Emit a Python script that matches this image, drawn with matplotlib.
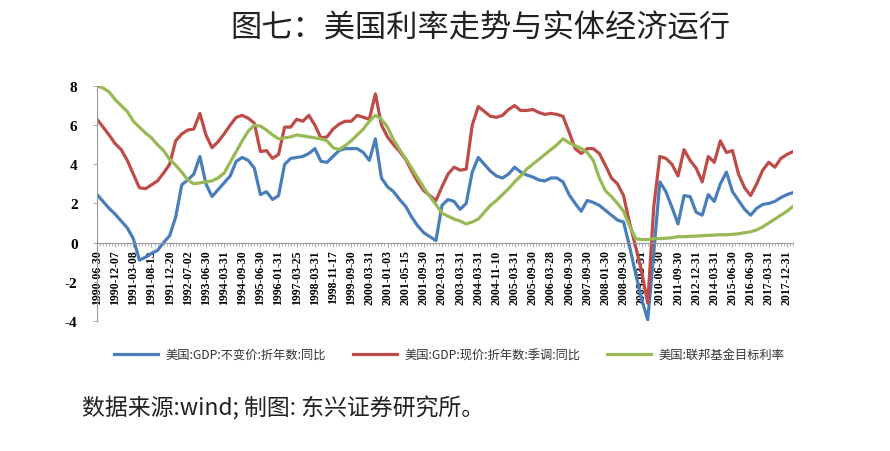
"""US interest rate trend vs real economy (figure 7) as a line chart."""

import matplotlib

matplotlib.use("Agg")
import matplotlib.pyplot as plt
from matplotlib.ticker import MultipleLocator

plt.rcParams["font.family"] = ["Noto Sans CJK SC", "DejaVu Sans"]

# tick labels shown every third observation
date_labels = [
    "1990-06-30", "1990-12-07", "1991-03-08", "1991-08-13", "1991-12-20",
    "1992-07-02", "1993-06-30", "1994-03-31", "1994-09-30", "1995-06-30",
    "1996-01-31", "1997-03-25", "1998-03-31", "1998-11-17", "1999-09-30",
    "2000-03-31", "2001-01-03", "2001-05-15", "2001-09-30", "2002-03-31",
    "2003-03-31", "2004-03-31", "2004-11-10", "2005-03-31", "2005-09-30",
    "2006-03-28", "2006-09-30", "2007-09-30", "2008-01-30", "2008-09-30",
    "2009-03-31", "2010-06-30", "2011-09-30", "2012-12-31", "2014-03-31",
    "2015-06-30", "2016-06-30", "2017-03-31", "2017-12-31",
]
label_step = 3

gdp_real = [
    2.46, 2.1, 1.75, 1.45, 1.1, 0.75, 0.2, -0.9, -0.75, -0.55,
    -0.4, 0.0, 0.35, 1.3, 2.95, 3.2, 3.5, 4.4, 3.0, 2.35,
    2.7, 3.05, 3.4, 4.15, 4.35, 4.2, 3.8, 2.45, 2.6, 2.2,
    2.4, 4.0, 4.3, 4.35, 4.4, 4.55, 4.8, 4.15, 4.1, 4.4,
    4.7, 4.8, 4.8, 4.8, 4.6, 4.2, 5.3, 3.3, 2.85, 2.6,
    2.2, 1.85, 1.3, 0.85, 0.5, 0.3, 0.1, 1.9, 2.2, 2.1,
    1.7, 2.0, 3.6, 4.35, 4.0, 3.65, 3.4, 3.3, 3.5, 3.85,
    3.6, 3.45, 3.35, 3.2, 3.15, 3.3, 3.3, 3.1, 2.45, 2.0,
    1.6, 2.15, 2.05, 1.9, 1.65, 1.4, 1.15, 1.05, -0.2, -1.6,
    -2.9, -3.95, -0.5, 3.1, 2.6, 1.8, 0.95, 2.4, 2.35, 1.55,
    1.4, 2.45, 2.1, 3.0, 3.6, 2.6, 2.15, 1.7, 1.4, 1.75,
    1.95, 2.0, 2.1, 2.3, 2.45, 2.55,
]

gdp_nominal = [
    6.3, 5.9, 5.5, 5.05, 4.75, 4.2, 3.5, 2.8, 2.75, 2.95,
    3.15, 3.55, 4.0, 5.2, 5.55, 5.75, 5.8, 6.6, 5.5, 4.85,
    5.15, 5.55, 6.0, 6.4, 6.5, 6.35, 6.1, 4.65, 4.7, 4.3,
    4.5, 5.9, 5.9, 6.3, 6.2, 6.5, 6.0, 5.35, 5.4, 5.8,
    6.05, 6.2, 6.2, 6.5, 6.4, 6.3, 7.6, 6.0, 5.4, 5.0,
    4.65, 4.25, 3.65, 3.1, 2.65, 2.4, 2.15, 2.85, 3.5, 3.85,
    3.7, 3.75, 6.0, 6.95, 6.7, 6.45, 6.4, 6.5, 6.8, 7.0,
    6.75, 6.75, 6.8, 6.65, 6.55, 6.6, 6.55, 6.45, 5.65, 4.8,
    4.55, 4.8, 4.8, 4.55, 3.95, 3.3, 3.0, 2.4, 1.0, -0.2,
    -1.5, -3.1, 1.85, 4.4, 4.3, 4.0, 3.4, 4.75, 4.2, 3.8,
    3.1, 4.4, 4.1, 5.2, 4.6, 4.7, 3.5, 2.8, 2.4, 3.0,
    3.7, 4.1, 3.85, 4.3, 4.5, 4.65,
]

fed_target = [
    8.0, 7.9, 7.7, 7.3, 7.0, 6.7, 6.2, 5.9, 5.6, 5.35,
    5.0, 4.7, 4.25, 3.95, 3.6, 3.2, 3.0, 3.05, 3.1, 3.15,
    3.3, 3.55, 4.1, 4.65, 5.2, 5.7, 6.0, 5.95, 5.75, 5.5,
    5.3, 5.35, 5.4, 5.5, 5.45, 5.4, 5.35, 5.3, 5.2, 4.85,
    4.75, 4.95, 5.2, 5.5, 5.8, 6.2, 6.5, 6.3, 5.9, 5.25,
    4.75, 4.3, 3.8, 3.3, 2.8, 2.35, 1.95, 1.5, 1.35, 1.2,
    1.1, 0.95, 1.05, 1.2, 1.55, 1.9, 2.15, 2.45, 2.75, 3.1,
    3.4, 3.75, 4.0, 4.25, 4.5, 4.75, 5.0, 5.3, 5.1, 4.95,
    4.8, 4.6, 4.2, 3.3, 2.65, 2.35, 2.0, 1.6, 0.85, 0.2,
    0.15, 0.15, 0.2, 0.2, 0.22, 0.25, 0.3, 0.3, 0.32, 0.33,
    0.35, 0.37, 0.38, 0.4, 0.4, 0.42, 0.45, 0.5, 0.55, 0.65,
    0.8, 1.0, 1.2, 1.4, 1.6, 1.85,
]

series_names = [
    "美国:GDP:不变价:折年数:同比",
    "美国:GDP:现价:折年数:季调:同比",
    "美国:联邦基金目标利率",
]
series_colors = ["#4a7ebb", "#be4b48", "#98b954"]

fig = plt.figure(figsize=(8.9, 4.52), dpi=100)
ax = fig.add_axes([0.109, 0.288, 0.782, 0.5195])

x = range(len(gdp_real))
for values, name, color in zip((gdp_real, gdp_nominal, fed_target), series_names, series_colors):
    ax.plot(x, values, color=color, lw=2.3, label=name, solid_joinstyle="round")

ax.set_xlim(0, len(gdp_real) - 1)
ax.set_ylim(-4, 8)

ax.spines["bottom"].set_position(("data", 0))
for side in ("top", "right"):
    ax.spines[side].set_visible(False)
for side in ("bottom", "left"):
    ax.spines[side].set_color("#999999")
    ax.spines[side].set_linewidth(0.8)

ax.xaxis.set_minor_locator(MultipleLocator(0.5))
ax.tick_params(axis="x", which="major", length=3, width=0.6, color="#999999", pad=2)
ax.tick_params(axis="x", which="minor", length=2, width=0.5, color="#999999")
ax.tick_params(axis="y", length=3, width=0.6, color="#999999", pad=11)

ax.set_yticks(range(-4, 9, 2))
ax.set_yticklabels([str(v) for v in range(-4, 9, 2)],
                   fontfamily="Liberation Serif", fontweight="bold", fontsize=11)
ax.set_xticks(range(0, label_step * len(date_labels), label_step))
ax.set_xticklabels(date_labels, fontfamily="Liberation Serif", fontweight="bold", fontsize=8.5)
for label in ax.get_xticklabels():
    label.set_rotation(90)
    label.set_verticalalignment("top")
    label.set_horizontalalignment("center")

fig.legend(loc="center", bbox_to_anchor=(0.505, 0.213), ncol=3, frameon=False,
           fontsize=8.8, handlelength=3.6, handletextpad=0.6, columnspacing=2.2,
           labelcolor="#333333")

fig.text(0.54, 0.937, "图七：美国利率走势与实体经济运行", ha="center", va="center",
         fontsize=22.5, color="#222222")
fig.text(0.092, 0.097, "数据来源:wind; 制图: 东兴证券研究所。", ha="left", va="center",
         fontsize=16.5, color="#222222")

fig.savefig("out.png", dpi=100)
